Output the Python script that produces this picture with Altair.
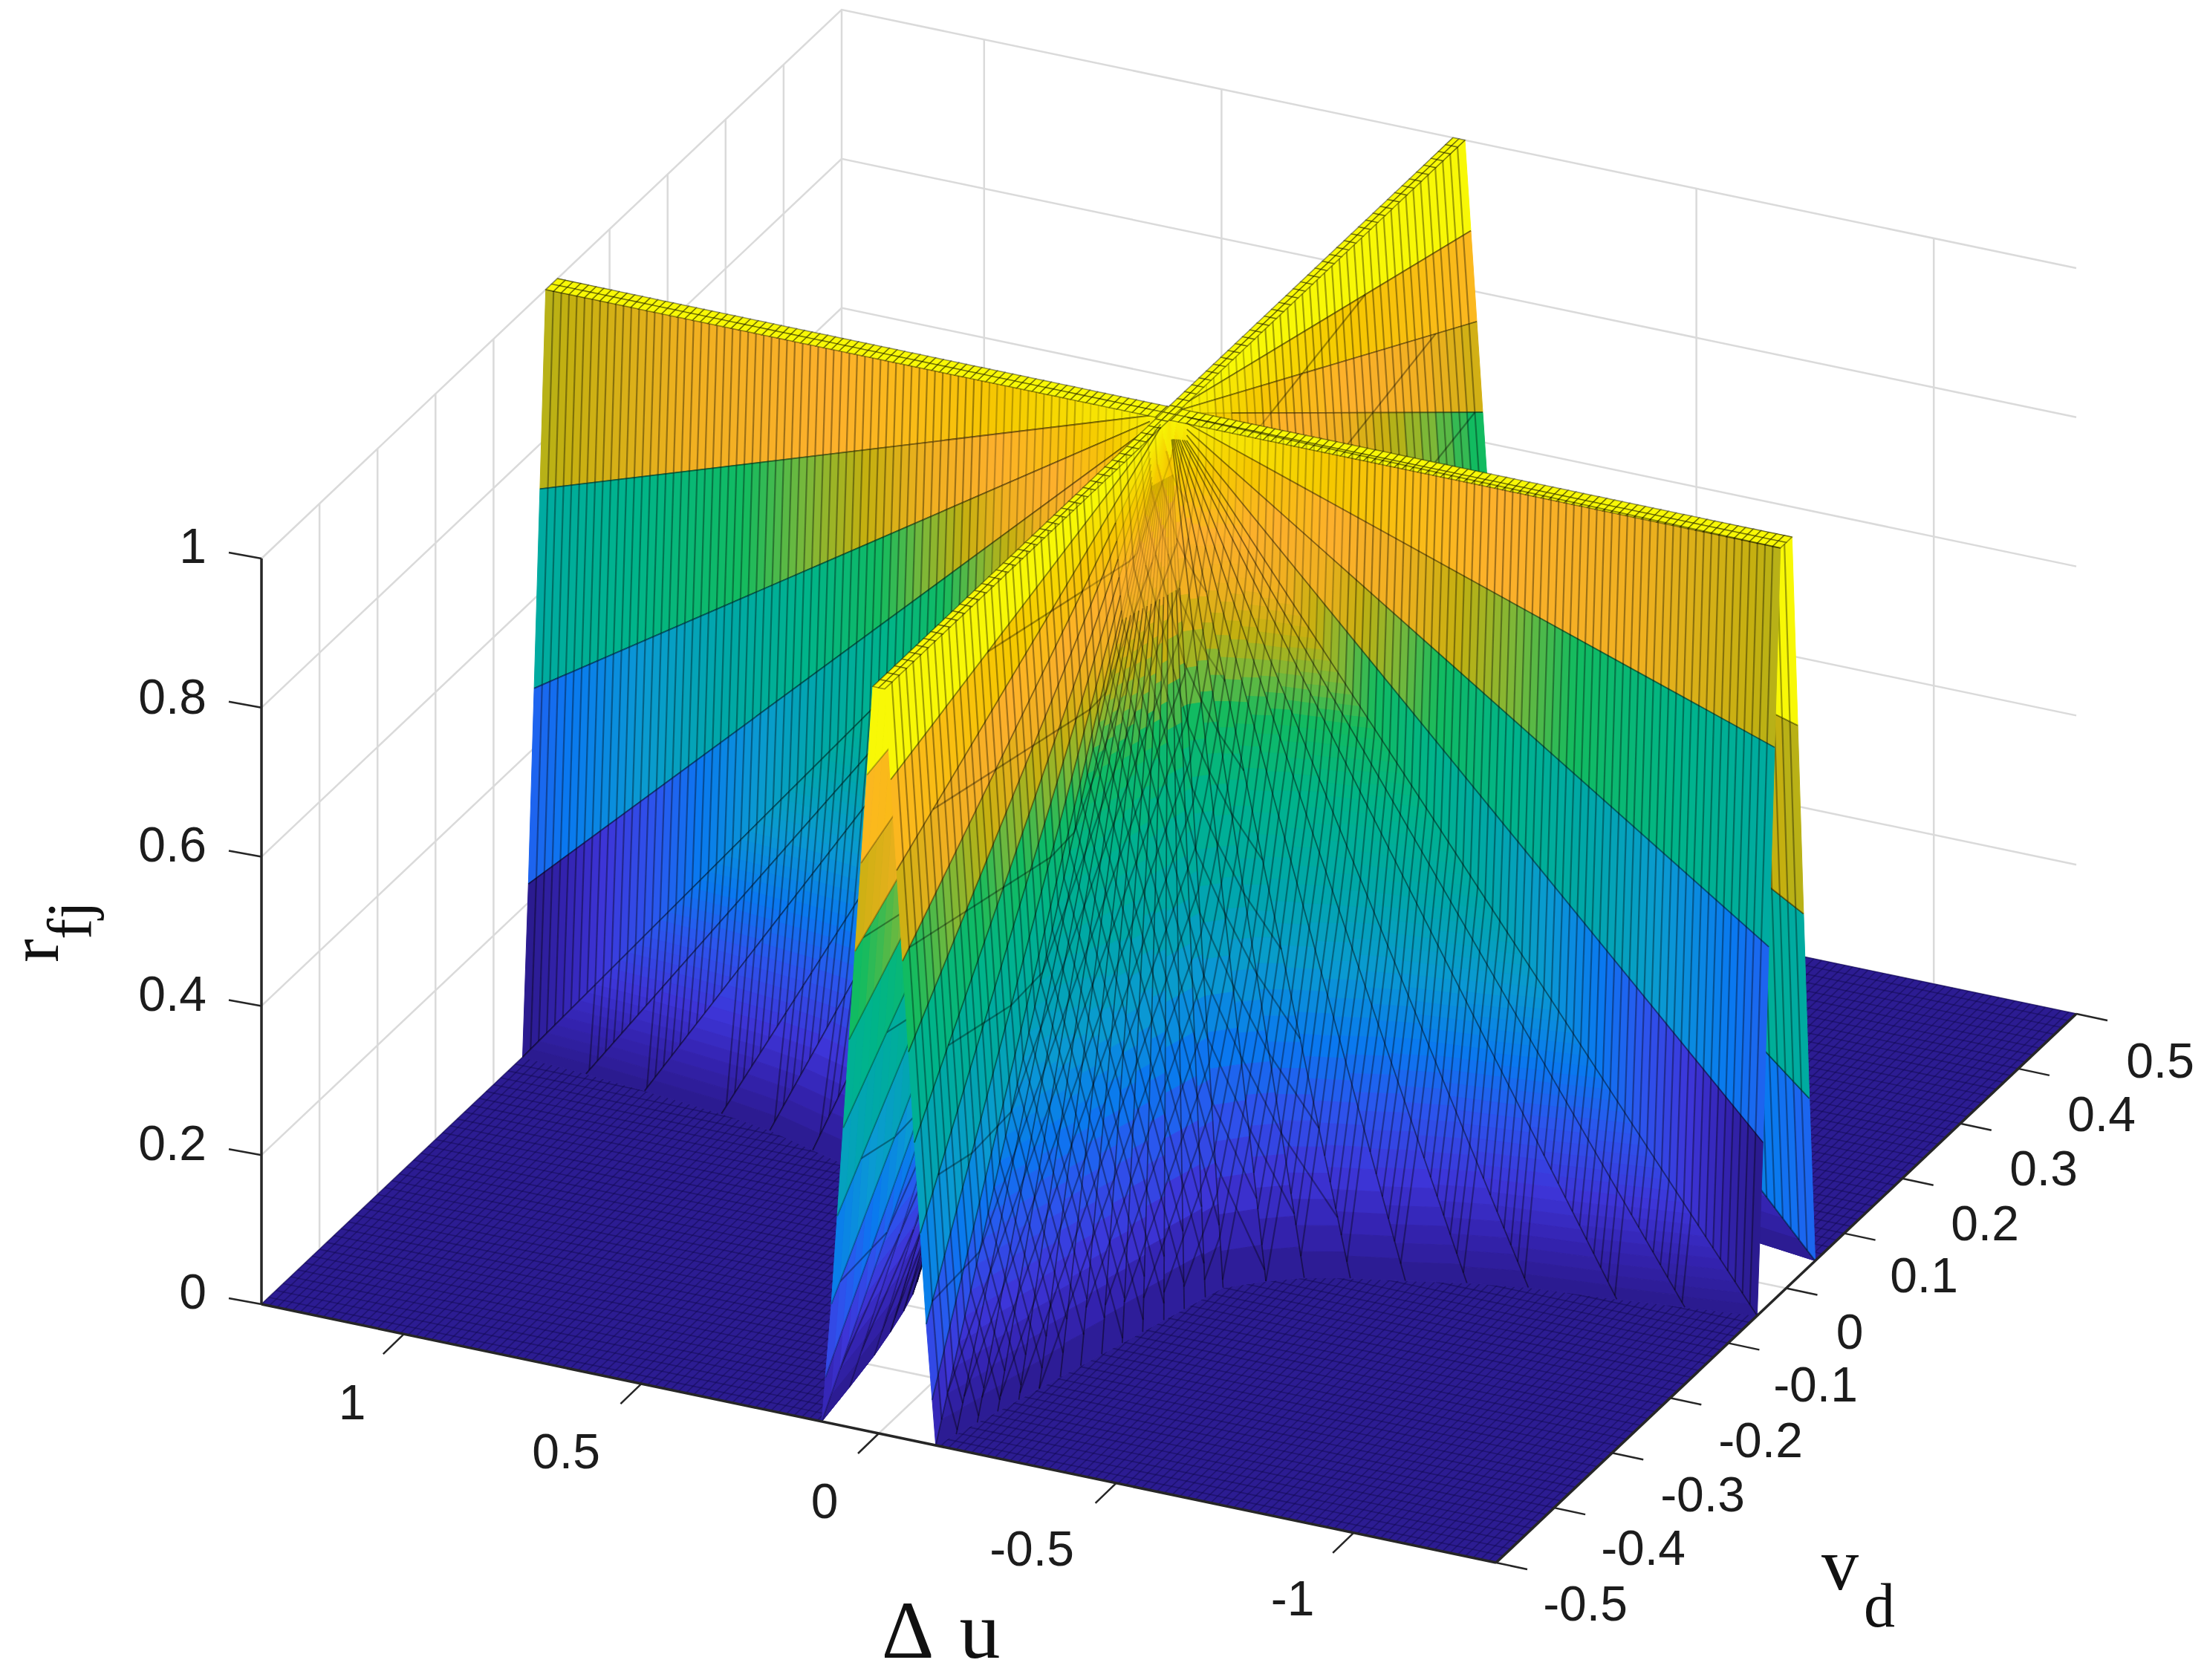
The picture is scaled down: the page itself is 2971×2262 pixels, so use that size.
import math
import numpy as np
import altair as alt

# ---- values ----------------------------------------------------------------
# Fan of straight rays leaving the apex (du=0, vd=0, r=1); one quadrant, |du|, |vd|
ray_du = [1.3, 1.3, 1.3, 1.3, 1.3, 1.3, 1.16, 1.028, 0.854, 0.74, 0.63, 0.53, 0.45, 0.39,
          0.328, 0.315, 0.30, 0.285, 0.27, 0.255, 0.24, 0.225, 0.21, 0.195, 0.18, 0.165,
          0.15, 0.135, 0.12, 0.1125, 0.1, 0.0875, 0.075, 0.0625, 0.05, 0.0375, 0.025, 0.0125, 0.0]
# rays on the du < 0 side
ray_vd_neg = [0.0, 0.01, 0.02, 0.03, 0.04, 0.05, 0.06, 0.0693, 0.0794, 0.092, 0.108, 0.121, 0.135, 0.152,
              0.175, 0.195, 0.219, 0.242, 0.266, 0.289, 0.312, 0.336, 0.359, 0.383, 0.406, 0.43,
              0.453, 0.477, 0.5, 0.5, 0.5, 0.5, 0.5, 0.5, 0.5, 0.5, 0.5, 0.5, 0.5]
# rays on the du > 0 side
ray_vd_pos = [0.0, 0.01, 0.02, 0.03, 0.04, 0.05, 0.055, 0.062, 0.072, 0.082, 0.098, 0.112, 0.125, 0.142,
              0.168, 0.175, 0.183, 0.193, 0.204, 0.216, 0.229, 0.244, 0.262, 0.282, 0.31, 0.345,
              0.385, 0.44, 0.5, 0.5, 0.5, 0.5, 0.5, 0.5, 0.5, 0.5, 0.5, 0.5, 0.5]
ray_rf = [1.0, 1.0, 0.74, 0.48, 0.225, 0.0, 0.0, 0.0, 0.0, 0.0, 0.0, 0.0, 0.0, 0.0,
          0.0, 0.0, 0.0, 0.0, 0.0, 0.0, 0.0, 0.0, 0.0, 0.0, 0.0, 0.0,
          0.0, 0.0, 0.0, 0.06, 0.16, 0.28, 0.40, 0.52, 0.64, 0.76, 0.88, 1.0, 1.0]

du_ticks = [1, 0.5, 0, -0.5, -1]
du_labels = ["1", "0.5", "0", "-0.5", "-1"]
vd_ticks = [-0.5, -0.4, -0.3, -0.2, -0.1, 0, 0.1, 0.2, 0.3, 0.4, 0.5]
vd_labels = ["-0.5", "-0.4", "-0.3", "-0.2", "-0.1", "0", "0.1", "0.2", "0.3", "0.4", "0.5"]
rf_ticks = [0, 0.2, 0.4, 0.6, 0.8, 1]
rf_labels = ["0", "0.2", "0.4", "0.6", "0.8", "1"]

du_label_xy = [(474, 1891), (762, 1957), (1110, 2024), (1389, 2088), (1740, 2155)]
vd_label_xy = [(2134, 2162), (2212, 2087), (2292, 2015), (2370, 1942), (2444, 1867), (2490, 1796),
               (2590, 1720), (2672, 1650), (2751, 1576), (2829, 1503), (2908, 1431)]
rf_label_y = [1742, 1542, 1341, 1140, 941, 738]

color_domain = [0, 0.06, 0.12, 0.2, 0.27, 0.36, 0.46, 0.56, 0.65, 0.70, 0.75, 0.80, 0.86, 0.93, 1]
color_range = ["#2a1a8c", "#3423b0", "#3d35d8", "#2c55ee", "#0a78f0", "#0a9ad2", "#00a8a8", "#00b48a",
               "#12bb60", "#78b83a", "#c4b010", "#f0b020", "#fdb02c", "#f6c800", "#f8f806"]

# ---- orthographic view of the box ------------------------------------------
W, H = 2955, 2246
L = (352.0, 1756.0)
F = (2014.0, 2104.0)
R = (2795.0, 1365.0)
UX, UY = (L[0] - F[0]) / 2.6, (L[1] - F[1]) / 2.6
VX, VY = R[0] - F[0], R[1] - F[1]
CX, CY = (L[0] + R[0]) / 2, (L[1] + R[1]) / 2
ZH = 1004.0


def P(du, v, z=0.0):
    return [round(CX + du * UX + v * VX, 1), round(CY + du * UY + v * VY - z * ZH, 1)]


def line(pts, **props):
    return {"type": "Feature", "properties": props, "geometry": {"type": "LineString", "coordinates": pts}}


def poly(pts, **props):
    return {"type": "Feature", "properties": props,
            "geometry": {"type": "Polygon", "coordinates": [pts + [pts[0]]]}}


DU_STEP, VD_STEP = 0.01625, 0.0125
nr = len(ray_du)
BLACK = -1


def mesh_style(t):
    so = 0.12 if t < 0.15 else (0.24 if t < 0.3 else 0.36)
    return dict(c=0.5, sc=BLACK, so=so, sw=2.2)


def vd_of(su):
    return ray_vd_pos if su > 0 else ray_vd_neg


def on_ray(k, t, su, sv):
    return (su * ray_du[k] * t, sv * vd_of(su)[k] * t, 1 - (1 - ray_rf[k]) * t)


def wedge_cells(k, su, sv, coarse=1):
    items = []
    vd = vd_of(su)
    n = max(ray_du[k] / DU_STEP, vd[k] / VD_STEP, ray_du[k + 1] / DU_STEP, vd[k + 1] / VD_STEP)
    n = max(int(math.ceil(n / coarse)), 12)
    idx = k if (ray_rf[k] > ray_rf[k + 1] and sv > 0) else k + 1
    for i in range(n):
        t0, t1 = i / n, (i + 1) / n
        a, b = on_ray(k, t0, su, sv), on_ray(k + 1, t0, su, sv)
        c, d = on_ray(k + 1, t1, su, sv), on_ray(k, t1, su, sv)
        col = round(1 - (1 - ray_rf[idx]) * (t0 + t1) / 2, 3)
        items.append(poly([P(*a), P(*b), P(*c), P(*d)], c=col, sc=col, so=1, sw=1))
    return items


def wedge_mesh(k, su, sv):
    items = []
    vd = vd_of(su)
    for j in range(1, 80):
        d = j * DU_STEP
        if ray_du[k] >= d and ray_du[k + 1] >= d:
            t0, t1 = d / ray_du[k], d / ray_du[k + 1]
            if (t0 + t1) / 2 < 0.04:
                continue
            items.append(line([P(*on_ray(k, t0, su, sv)), P(*on_ray(k + 1, t1, su, sv))],
                              **mesh_style((t0 + t1) / 2)))
    if k >= 11 and su < 0:
        for j in range(1, 40):
            v = j * VD_STEP
            if vd[k] >= v and vd[k + 1] >= v:
                t0, t1 = v / vd[k], v / vd[k + 1]
                if (t0 + t1) / 2 < 0.04:
                    continue
                items.append(line([P(*on_ray(k, t0, su, sv)), P(*on_ray(k + 1, t1, su, sv))],
                                  **mesh_style((t0 + t1) / 2)))
    return items


def ray_line(k, su, sv):
    dense = 14 <= k <= 34
    faint = su > 0 and k >= 26
    items = [line([P(*on_ray(k, 0.2 if dense else 0.03, su, sv)), P(*on_ray(k, 1, su, sv))],
                  c=0.5, sc=BLACK, so=0.25 if faint else 0.45, sw=1.8)]
    if dense:
        items.append(line([P(*on_ray(k, 0.07, su, sv)), P(*on_ray(k, 0.2, su, sv))],
                          c=0.5, sc=BLACK, so=0.16, sw=1.6))
    return items


def ridge_strips(su, sv):
    # flat ridge tops along both axes, one row wide
    half_v, half_u = vd_of(su)[1], ray_du[nr - 2]
    items = []
    for j in range(int(round(ray_du[0] / DU_STEP))):
        d0, d1 = j * DU_STEP, (j + 1) * DU_STEP
        pts = [P(su * d0, 0, 1), P(su * d1, 0, 1), P(su * d1, sv * half_v, 1), P(su * d0, sv * half_v, 1)]
        items.append(poly(pts, c=1, sc=BLACK, so=0.4, sw=1.6))
    for j in range(int(round(vd_of(su)[-1] / VD_STEP))):
        v0, v1 = j * VD_STEP, (j + 1) * VD_STEP
        pts = [P(0, sv * v0, 1), P(0, sv * v1, 1), P(su * half_u, sv * v1, 1), P(su * half_u, sv * v0, 1)]
        items.append(poly(pts, c=1, sc=BLACK, so=0.4, sw=1.6))
    return items


def quadrant(su, sv, order, coarse=1, mesh=True):
    items = []
    for k in order:
        items += wedge_cells(k, su, sv, coarse)
        if mesh:
            items += wedge_mesh(k, su, sv)
        items += ray_line(k, su, sv)
        items += ray_line(k + 1, su, sv)
    return items + ridge_strips(su, sv)


up = list(range(1, nr - 2))
down = up[::-1]
# far to near: sweep of each quadrant's wedges around the apex
mid_features = quadrant(1, 1, down, coarse=4, mesh=False) + quadrant(-1, 1, down, coarse=2) + quadrant(1, -1, up)

front_features = []
for k in up:
    front_features += wedge_cells(k, -1, -1)
front_features += ridge_strips(-1, -1)
for k in up:
    front_features += wedge_mesh(k, -1, -1)
    front_features += ray_line(k, -1, -1)

# floor
bnd = [k for k in range(nr) if ray_rf[k] == 0.0]
bnd_du = [ray_du[k] for k in bnd]
floor_polys, floor_mesh = [], []
for su, sv in [(1, 1), (1, -1), (-1, 1), (-1, -1)]:
    bnd_vd = [vd_of(su)[k] for k in bnd]
    pts = [P(su * 1.3, sv * 0.5)] + [P(su * u, sv * v) for u, v in zip(bnd_du[::-1], bnd_vd[::-1])]
    floor_polys.append(poly(pts))
    for j in range(1, 81):
        d = j * DU_STEP
        if d < bnd_du[-1]:
            continue
        vmin = float(np.interp(d, bnd_du[::-1], bnd_vd[::-1]))
        floor_mesh.append(line([P(su * d, sv * vmin), P(su * d, sv * 0.5)]))
    for j in range(1, 41):
        v = j * VD_STEP
        if v < bnd_vd[0]:
            continue
        umin = float(np.interp(v, bnd_vd, bnd_du))
        floor_mesh.append(line([P(su * umin, sv * v), P(su * 1.3, sv * v)]))

# box grid
grid = []
for z in rf_ticks:
    grid.append(line([P(1.3, -0.5, z), P(1.3, 0.5, z), P(-1.3, 0.5, z)]))
for v in vd_ticks[1:-1]:
    grid.append(line([P(1.3, v, 0), P(1.3, v, 1)]))
    grid.append(line([P(1.3, v, 0), P(-1.3, v, 0)]))
for u in du_ticks:
    grid.append(line([P(u, 0.5, 0), P(u, 0.5, 1)]))
    grid.append(line([P(u, -0.5, 0), P(u, 0.5, 0)]))
grid.append(line([P(1.3, 0.5, 0), P(1.3, 0.5, 1)]))

axes_lines = [line([P(1.3, -0.5), P(-1.3, -0.5)]), line([P(-1.3, -0.5), P(-1.3, 0.5)]),
              line([P(1.3, -0.5, 0), P(1.3, -0.5, 1)])]
tick_lines = []
for u in du_ticks:
    a = P(u, -0.5)
    tick_lines.append(line([a, [a[0] - 28, a[1] + 27]]))
for v in vd_ticks:
    a = P(-1.3, v)
    tick_lines.append(line([a, [a[0] + 42, a[1] + 9]]))
for z in rf_ticks:
    a = P(1.3, -0.5, z)
    tick_lines.append(line([a, [a[0] - 44, a[1] - 8]]))

proj = alt.Projection(type="identity", scale=1, translate=[-8, -8])
fill_scale = alt.Scale(domain=color_domain, range=color_range, interpolate="rgb")
stroke_scale = alt.Scale(domain=[-1, -0.01] + color_domain, range=["#000000", "#000000"] + color_range,
                         interpolate="rgb")


def geo(features):
    return alt.Chart(alt.Data(values=features)).properties(projection=proj)


def texts(rows, **mark):
    return alt.Chart(alt.Data(values=rows)).mark_text(**mark).encode(
        longitude="lon:Q", latitude="lat:Q", text="t:N").properties(projection=proj)


def surface(features):
    return geo(features).mark_geoshape().encode(
        fill=alt.Fill("properties.c:Q", scale=fill_scale, legend=None),
        stroke=alt.Stroke("properties.sc:Q", scale=stroke_scale, legend=None),
        strokeOpacity=alt.StrokeOpacity("properties.so:Q", scale=None),
        strokeWidth=alt.StrokeWidth("properties.sw:Q", scale=None))


layers = [
    geo(grid).mark_geoshape(filled=False, stroke="#dadada", strokeWidth=2.5),
    geo(floor_polys).mark_geoshape(fill="#2c1c92", stroke="#2c1c92", strokeWidth=1),
    geo(floor_mesh).mark_geoshape(filled=False, stroke="#120a50", strokeOpacity=0.5, strokeWidth=1.6),
    surface(mid_features),
    surface(front_features),
    geo(axes_lines).mark_geoshape(filled=False, stroke="#262626", strokeWidth=3.5),
    geo(tick_lines).mark_geoshape(filled=False, stroke="#262626", strokeWidth=2.5),
]

tick_font = dict(font="Liberation Sans", fontSize=66, color="#1c1c1c")
layers.append(texts([{"lon": x, "lat": y, "t": s} for (x, y), s in zip(du_label_xy, du_labels)],
                    align="center", baseline="middle", **tick_font))
layers.append(texts([{"lon": x, "lat": y, "t": s} for (x, y), s in zip(vd_label_xy, vd_labels)],
                    align="center", baseline="middle", **tick_font))
layers.append(texts([{"lon": 278, "lat": y, "t": s} for y, s in zip(rf_label_y, rf_labels)],
                    align="right", baseline="middle", **tick_font))

serif = dict(font="Liberation Serif", color="#111111")
layers.append(texts([{"lon": 1222, "lat": 2232, "t": "Δ"}], align="center", baseline="alphabetic",
                    fontSize=110, **serif))
layers.append(texts([{"lon": 1319, "lat": 2232, "t": "u"}], align="center", baseline="alphabetic",
                    fontSize=110, **serif))
layers.append(texts([{"lon": 2477, "lat": 2140, "t": "v"}], align="center", baseline="alphabetic",
                    fontSize=100, **serif))
layers.append(texts([{"lon": 2530, "lat": 2190, "t": "d"}], align="center", baseline="alphabetic",
                    fontSize=84, **serif))
layers.append(texts([{"lon": 78, "lat": 1280, "t": "r"}], align="center", baseline="alphabetic",
                    angle=270, fontSize=96, **serif))
layers.append(texts([{"lon": 122, "lat": 1239, "t": "fj"}], align="center", baseline="alphabetic",
                    angle=270, fontSize=84, **serif))

chart = alt.layer(*layers).properties(
    width=W, height=H, padding=0, background="white",
    autosize=alt.AutoSizeParams(type="none"),
).configure_view(stroke=None)

chart.save("out.html", embed_options={"renderer": "svg", "actions": False})
